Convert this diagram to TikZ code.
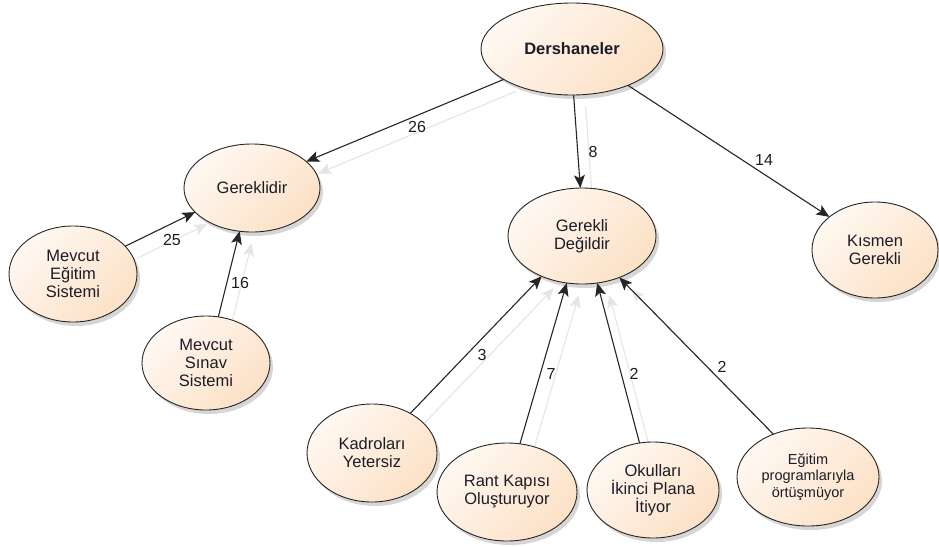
\documentclass[tikz,border=0pt]{standalone}
\usepackage{fontspec}
\setmainfont{Liberation Sans}
\usetikzlibrary{shapes.geometric,arrows.meta,shadows}
\definecolor{peachA}{HTML}{FFF8F2}
\definecolor{peachB}{HTML}{FCE1C6}
\definecolor{txt}{HTML}{1C1C28}
\pgfdeclarelayer{bg}
\pgfsetlayers{bg,main}
\begin{document}
\begin{tikzpicture}[x=1pt,y=-1pt,
  ent/.style={ellipse, draw=black!85, line width=0.9pt,
    top color=peachA, bottom color=peachB, shading angle=45,
    drop shadow={shadow xshift=3pt, shadow yshift=-4pt, opacity=0.16, fill=black},
    inner sep=0pt, outer sep=0pt, align=center, text=txt,
    font=\fontsize{16.5}{18}\selectfont},
  edgeln/.style={-{Stealth[length=13pt,width=11pt,inset=3pt]}, line width=1.1pt, draw=black!85},
  shadowln/.style={-{Stealth[length=13pt,width=11pt,inset=3pt]}, line width=1.1pt, draw=black!10},
  lbl/.style={text=txt, font=\fontsize{16}{18}\selectfont, inner sep=1pt}
]
\useasboundingbox (0,0) rectangle (939,546);

% nodes
\node[ent, minimum width=182pt, minimum height=92pt, font=\fontsize{16.5}{18}\bfseries] (D) at (572,49) {Dershaneler};
\node[ent, minimum width=136pt, minimum height=88pt] (G) at (252,188) {Gereklidir};
\node[ent, minimum width=128pt, minimum height=96pt] (MES) at (73,274) {Mevcut\\Eğitim\\Sistemi};
\node[ent, minimum width=128pt, minimum height=94pt] (MSS) at (206,363) {Mevcut\\Sınav\\Sistemi};
\node[ent, minimum width=148pt, minimum height=96pt] (GD) at (582,236) {Gerekli\\Değildir};
\node[ent, minimum width=126pt, minimum height=96pt] (KG) at (875,250) {Kısmen\\Gerekli};
\node[ent, minimum width=130pt, minimum height=98pt] (KY) at (372,453) {Kadroları\\Yetersiz};
\node[ent, minimum width=140pt, minimum height=98pt] (RK) at (507,492) {Rant Kapısı\\Oluşturuyor};
\node[ent, minimum width=132pt, minimum height=96pt] (OK) at (653,490) {Okulları\\İkinci Plana\\İtiyor};
\node[ent, minimum width=142pt, minimum height=98pt, font=\fontsize{14.5}{16.5}\selectfont] (EP) at (808,477) {Eğitim\\programlarıyla\\örtüşmüyor};

% background and edge shadows
\begin{pgfonlayer}{bg}
\fill[white] (0,0) rectangle (939,546);
\begin{scope}[transform canvas={xshift=12pt,yshift=-12pt}]
\draw[shadowln] (D.204) -- (G.26);
\draw[shadowln] (D.272) -- (GD.92);
\draw[shadowln] (MES.28) -- (G.203);
\draw[shadowln] (MSS.75) -- (G.254);
\draw[shadowln] (KY.46) -- (GD.225);
\draw[shadowln] (RK.75) -- (GD.252);
\draw[shadowln] (OK.106) -- (GD.288);
\draw[shadowln] (EP.129) -- (GD.312);
\end{scope}
\end{pgfonlayer}

% edges
\draw[edgeln] (D.204) -- (G.26);
\draw[edgeln] (D.272) -- (GD.92);
\draw[edgeln] (D.327) -- (KG.144);
\draw[edgeln] (MES.28) -- (G.203);
\draw[edgeln] (MSS.75) -- (G.254);
\draw[edgeln] (KY.46) -- (GD.225);
\draw[edgeln] (RK.75) -- (GD.252);
\draw[edgeln] (OK.106) -- (GD.288);
\draw[edgeln] (EP.129) -- (GD.312);

% labels
\node[lbl] (l26) at (417,127) {26};
\node[lbl] (l8) at (593,152) {8};
\node[lbl] (l14) at (764,160) {14};
\node[lbl] (l25) at (172,240) {25};
\node[lbl] (l16) at (240,283) {16};
\node[lbl] (l3) at (482,355) {3};
\node[lbl] (l7) at (551,374) {7};
\node[lbl] (l2a) at (634,374) {2};
\node[lbl] (l2b) at (722,367) {2};
\end{tikzpicture}
\end{document}
